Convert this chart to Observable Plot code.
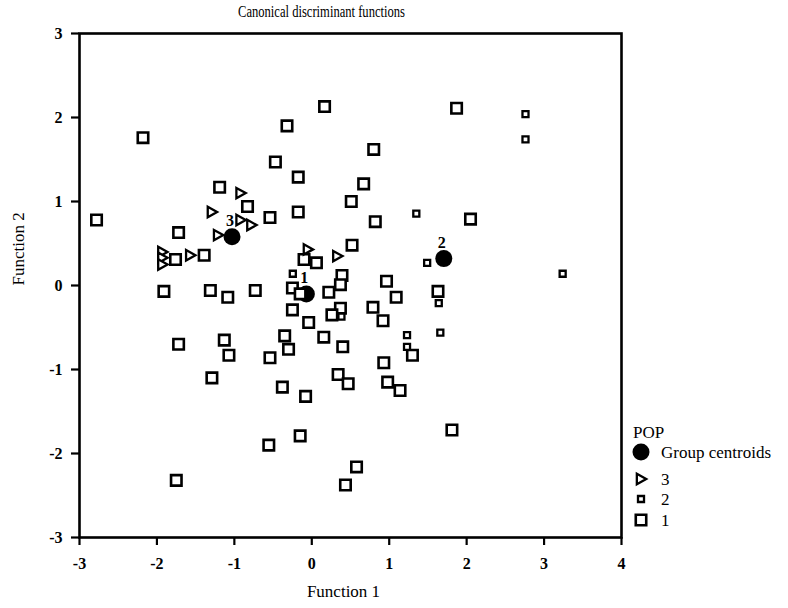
<!DOCTYPE html>
<html><head><meta charset="utf-8">
<script src="https://cdn.jsdelivr.net/npm/d3@7"></script>
<script src="https://cdn.jsdelivr.net/npm/@observablehq/plot@0.6"></script>
<style>
body{margin:0;background:#fff;}
#wrap{position:relative;width:788px;height:608px;font-family:"Liberation Serif","Times New Roman",serif;color:#000;}
#title{position:absolute;left:238px;top:2px;font-size:17px;line-height:20px;white-space:nowrap;transform:scaleX(0.74);transform-origin:0 0;}
#chart{position:absolute;left:0;top:0;}
</style></head><body>
<div id="wrap"><div id="chart"></div><div id="title">Canonical discriminant functions</div></div>
<script>
// Group 1 (large squares): [Function 1, Function 2]
const group1 = [
  [-2.78,0.78],[-2.18,1.76],[0.165,2.13],[1.87,2.11],[-0.32,1.90],[0.80,1.62],[-0.47,1.47],
  [-0.175,1.29],[0.67,1.21],[-1.19,1.17],[0.51,1.00],[-0.83,0.94],[-0.175,0.875],[-0.54,0.81],
  [0.82,0.76],[2.05,0.79],[-1.72,0.63],[0.52,0.48],[-1.76,0.31],[-1.39,0.36],[-0.10,0.31],
  [0.06,0.27],[0.39,0.12],[0.37,0.01],[0.965,0.05],[-1.91,-0.07],[-1.31,-0.06],[-1.085,-0.14],
  [-0.73,-0.06],[-0.25,-0.03],[-0.15,-0.10],[0.22,-0.08],[1.09,-0.14],[1.63,-0.07],[-0.25,-0.29],
  [0.37,-0.27],[0.26,-0.35],[-0.04,-0.44],[0.79,-0.26],[0.92,-0.42],[-0.35,-0.60],[0.155,-0.615],
  [-0.30,-0.76],[0.40,-0.73],[-0.54,-0.86],[-1.72,-0.70],[-1.13,-0.65],[-1.07,-0.83],[1.30,-0.83],
  [0.93,-0.92],[-1.29,-1.10],[0.34,-1.06],[0.47,-1.17],[0.98,-1.15],[1.14,-1.25],[-0.38,-1.21],
  [-0.08,-1.32],[-0.15,-1.79],[-0.555,-1.90],[1.81,-1.72],[0.578,-2.16],[0.435,-2.375],[-1.75,-2.32]
];
// Group 2 (small squares)
const group2 = [
  [2.76,2.04],[2.76,1.74],[1.35,0.855],[1.49,0.27],[3.24,0.14],[-0.245,0.14],
  [1.64,-0.21],[1.66,-0.56],[1.23,-0.59],[1.23,-0.73],[0.383,-0.37]
];
// Group 3 (triangles)
const group3 = [
  [-0.92,1.10],[-1.29,0.875],[-0.92,0.78],[-0.78,0.72],[-1.21,0.60],[-1.93,0.40],
  [-1.93,0.33],[-1.93,0.25],[-1.57,0.36],[-0.05,0.43],[0.33,0.35]
];
// Group centroids
const centroidLabels = ["1","2","3"];
const centroids = [[-0.07,-0.10],[1.705,0.32],[-1.03,0.58]];

const xTicks = [-3,-2,-1,0,1,2,3,4];
const yTicks = [-3,-2,-1,0,1,2,3];
const legendTitle = "POP";
const legendItems = ["Group centroids","3","2","1"];

const triangleRight = {
  draw(ctx, size) {
    const s = Math.sqrt(size / Math.PI);
    ctx.moveTo(-0.8 * s, -s);
    ctx.lineTo(s, 0);
    ctx.lineTo(-0.8 * s, s);
    ctx.closePath();
  }
};

const cData = centroids.map((d, i) => ({x: d[0], y: d[1], label: centroidLabels[i]}));

const plot = Plot.plot({
  width: 788, height: 608,
  marginLeft: 79, marginRight: 167, marginTop: 33, marginBottom: 71,
  x: {domain: [-3, 4]},
  y: {domain: [-3, 3]},
  style: {fontFamily: '"Liberation Serif","Times New Roman",serif', fontSize: "16px", color: "#000", background: "#fff"},
  marks: [
    Plot.axisX({ticks: xTicks, tickSize: 8, tickPadding: 12, tickFormat: d => String(d), fontWeight: "bold", fontSize: 16, strokeWidth: 2.2, label: null}),
    Plot.axisY({ticks: yTicks, tickSize: 8, tickPadding: 9, tickFormat: d => String(d), fontWeight: "bold", fontSize: 16, strokeWidth: 2.2, label: null}),
    Plot.frame({stroke: "#000", strokeWidth: 2.6}),
    Plot.text(["Function 1"], {frameAnchor: "bottom", dy: 59, dx: -7, fontSize: 17}),
    Plot.text(["Function 2"], {frameAnchor: "left", dx: -61, rotate: -90, fontSize: 17}),
    Plot.dot(cData, {x: "x", y: "y", r: 8.5, fill: "#000", stroke: "none"}),
    Plot.text(cData, {x: "x", y: "y", text: "label", dy: -16, dx: -2, fontWeight: "bold", fontSize: 16}),
    Plot.dot(group1, {x: d => d[0], y: d => d[1], symbol: "square", r: 5.9, fill: "#fff", stroke: "#000", strokeWidth: 2.6}),
    Plot.dot(group2, {x: d => d[0], y: d => d[1], symbol: "square", r: 3.4, fill: "#fff", stroke: "#000", strokeWidth: 2.3}),
    Plot.dot(group3, {x: d => d[0], y: d => d[1], symbol: triangleRight, r: 5.2, fill: "#fff", stroke: "#000", strokeWidth: 2.3})
  ]
});
document.getElementById("chart").appendChild(plot);

// Legend
const svg = d3.select(plot);
const lg = svg.append("g").attr("font-family", '"Liberation Serif","Times New Roman",serif')
  .attr("font-size", 17).attr("fill", "#000").attr("text-anchor", "start");
lg.append("text").attr("x", 633).attr("y", 432).attr("dy", "0.35em").text(legendTitle);
const rowsY = [452, 479, 499, 520];
const sym = [
  {p: d3.symbol(d3.symbolCircle, Math.PI * 8.5 * 8.5)(), fill: "#000", stroke: "none", sw: 0},
  {p: d3.symbol(triangleRight, Math.PI * 5.2 * 5.2)(), fill: "#fff", stroke: "#000", sw: 2.3},
  {p: d3.symbol(d3.symbolSquare, Math.PI * 3.4 * 3.4)(), fill: "#fff", stroke: "#000", sw: 2.3},
  {p: d3.symbol(d3.symbolSquare, Math.PI * 5.9 * 5.9)(), fill: "#fff", stroke: "#000", sw: 2.6}
];
legendItems.forEach((t, i) => {
  lg.append("path").attr("d", sym[i].p).attr("transform", `translate(641,${rowsY[i]})`)
    .attr("fill", sym[i].fill).attr("stroke", sym[i].stroke).attr("stroke-width", sym[i].sw);
  lg.append("text").attr("x", 661).attr("y", rowsY[i]).attr("dy", "0.35em").text(t);
});
</script>
</body></html>
